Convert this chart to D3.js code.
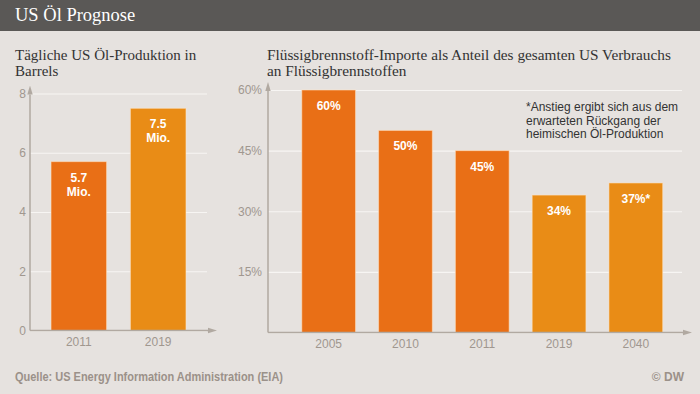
<!DOCTYPE html>
<html>
<head>
<meta charset="utf-8">
<script src="https://cdn.jsdelivr.net/npm/d3@7"></script>
<style>
  html, body { margin: 0; padding: 0; background: #e6e2df; }
  svg { display: block; }
  .tick text { font-family: Arial, "Liberation Sans", sans-serif; font-size: 12px; fill: #a0978f; }
</style>
</head>
<body>
<svg id="chart" width="700" height="394"></svg>
<script>
// data
const prodYears = ['2011', '2019'];
const prodValues = [5.7, 7.5];
const prodTicks = [0, 2, 4, 6, 8];

const importYears = ['2005', '2010', '2011', '2019', '2040'];
const importValues = [60, 50, 45, 34, 37];
const importLabels = ['60%', '50%', '45%', '34%', '37%*'];
const importTicks = [0, 15, 30, 45, 60];

const forecastYears = ['2019', '2040'];

const noteLines = ['*Anstieg ergibt sich aus dem', 'erwarteten Rückgang der', 'heimischen Öl-Produktion'];

const colDark = '#e96f16';
const colLight = '#e98c16';
const axisCol = '#b1a9a1';
const gridCol = '#f7f5f3';

function barColour(year) {
  return forecastYears.includes(year) ? colLight : colDark;
}

const svg = d3.select('#chart');

// header band
svg.append('rect').attr('x', 0).attr('y', 0).attr('width', 700).attr('height', 31).attr('fill', '#5a5856');
svg.append('text').attr('x', 15).attr('y', 21)
  .attr('font-family', '"Liberation Serif", "Times New Roman", serif').attr('font-size', 18.5).attr('fill', '#fff')
  .text('US Öl Prognose');

// arrow markers for the axes
const defs = svg.append('defs');
defs.append('marker').attr('id', 'arrow')
  .attr('viewBox', '0 0 10 10').attr('refX', 0).attr('refY', 5)
  .attr('markerWidth', 6).attr('markerHeight', 6).attr('orient', 'auto')
  .append('path').attr('d', 'M0,2 L10,5 L0,8 Z').attr('fill', axisCol);

function title(lines, x, size) {
  const t = svg.append('text').attr('x', x).attr('y', 60)
    .attr('font-family', '"Liberation Serif", "Times New Roman", serif').attr('font-size', size).attr('fill', '#333');
  lines.forEach(function(l, i) {
    t.append('tspan').attr('x', x).attr('dy', i === 0 ? 0 : 16).text(l);
  });
}

// generic bar panel
function panel(opts) {
  const x = d3.scaleBand().domain(opts.cats).range(opts.xRange)
    .paddingInner(0.3).paddingOuter(opts.outer);
  const y = d3.scaleLinear().domain([0, opts.max]).range(opts.yRange);
  const g = svg.append('g');

  // grid via axis ticks
  const grid = g.append('g').attr('transform', `translate(${opts.axisX},0)`)
    .call(d3.axisLeft(y).tickValues(opts.ticks).tickSize(-(opts.gridEnd - opts.axisX)).tickPadding(opts.pad).tickFormat(opts.fmt));
  grid.select('.domain').remove();
  grid.selectAll('.tick line').attr('stroke', gridCol).attr('stroke-width', 1.2);

  g.selectAll('.bar').data(opts.values).enter().append('rect')
    .attr('class', 'bar')
    .attr('x', (d, i) => x(opts.cats[i]))
    .attr('y', d => y(d))
    .attr('width', x.bandwidth())
    .attr('height', d => y(0) - y(d))
    .attr('fill', (d, i) => barColour(opts.cats[i]))
    .attr('stroke', 'rgba(255,230,200,0.55)').attr('stroke-width', 1);

  // value labels
  g.selectAll('.lbl').data(opts.values).enter().append('text')
    .attr('class', 'lbl')
    .attr('x', (d, i) => x(opts.cats[i]) + x.bandwidth() / 2)
    .attr('y', d => y(d) + 20)
    .attr('text-anchor', 'middle')
    .attr('font-family', 'Arial, "Liberation Sans", sans-serif')
    .attr('font-weight', 'bold').attr('font-size', 12).attr('fill', '#fff')
    .each(function(d, i) {
      const lines = opts.label(d, i);
      const t = d3.select(this);
      lines.forEach(function(l, k) {
        t.append('tspan').attr('x', x(opts.cats[i]) + x.bandwidth() / 2).attr('dy', k === 0 ? 0 : 14).text(l);
      });
    });

  // x axis (labels only) + axis lines with arrows
  const xa = g.append('g').attr('transform', `translate(0,${y(0)})`)
    .call(d3.axisBottom(x).tickSize(0).tickPadding(7));
  xa.select('.domain').remove();

  g.append('line').attr('x1', opts.axisX).attr('x2', opts.gridEnd + 1)
    .attr('y1', y(0)).attr('y2', y(0))
    .attr('stroke', axisCol).attr('stroke-width', 1.5).attr('marker-end', 'url(#arrow)');
  g.append('line').attr('x1', opts.axisX).attr('x2', opts.axisX)
    .attr('y1', y(0)).attr('y2', y(opts.max) + 1)
    .attr('stroke', axisCol).attr('stroke-width', 1.5).attr('marker-end', 'url(#arrow)');
}

title(['Tägliche US Öl-Produktion in', 'Barrels'], 15, 15);
panel({
  cats: prodYears, values: prodValues, max: 8, ticks: prodTicks,
  xRange: [30, 207], outer: 0.265, yRange: [330.5, 93.5],
  axisX: 30, gridEnd: 207, pad: 4, fmt: d3.format('d'),
  label: d => [String(d), 'Mio.']
});

title(['Flüssigbrennstoff-Importe als Anteil des gesamten US Verbrauchs', 'an Flüssigbrennstoffen'], 267, 15.3);
panel({
  cats: importYears, values: importValues, max: 60, ticks: importTicks,
  xRange: [268, 696.5], outer: 0.44, yRange: [332.5, 90],
  axisX: 268, gridEnd: 682, pad: 6, fmt: d => d === 0 ? '' : d + '%',
  label: (d, i) => [importLabels[i]]
});

// footnote
const note = svg.append('text').attr('x', 526).attr('y', 111)
  .attr('font-family', 'Arial, "Liberation Sans", sans-serif').attr('font-size', 12).attr('fill', '#333');
noteLines.forEach(function(l, i) {
  note.append('tspan').attr('x', 526).attr('dy', i === 0 ? 0 : 13.5).text(l);
});

// footer (condensed face in the original, squeezed to its width)
svg.append('text').attr('x', 15).attr('y', 381)
  .attr('font-family', 'Arial, "Liberation Sans", sans-serif').attr('font-weight', 'bold')
  .attr('font-size', 12).attr('fill', '#9b9189')
  .attr('textLength', 268).attr('lengthAdjust', 'spacingAndGlyphs')
  .text('Quelle: US Energy Information Administration (EIA)');
svg.append('text').attr('x', 684).attr('y', 381).attr('text-anchor', 'end')
  .attr('font-family', 'Arial, "Liberation Sans", sans-serif').attr('font-weight', 'bold')
  .attr('font-size', 12).attr('fill', '#9b9189')
  .text('© DW');
</script>
</body>
</html>
